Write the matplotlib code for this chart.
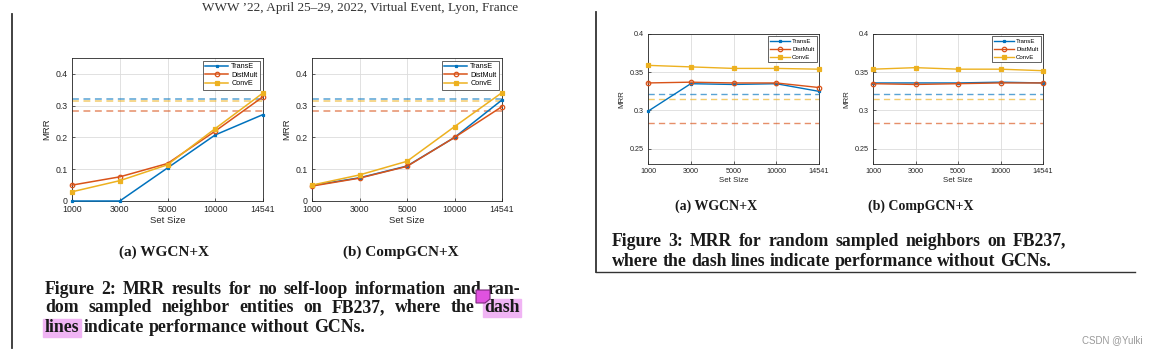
import numpy as np
import matplotlib.pyplot as plt
from matplotlib.patches import Rectangle, Polygon

# data
set_sizes = ["1000", "3000", "5000", "10000", "14541"]
models = ["TransE", "DistMult", "ConvE"]

# figure 2: no self-loop + random sampled neighbours
f2a_transe = [0.000, 0.000, 0.104, 0.208, 0.272]
f2a_distmult = [0.050, 0.076, 0.118, 0.220, 0.328]
f2a_conve = [0.029, 0.064, 0.114, 0.228, 0.340]

f2b_transe = [0.049, 0.073, 0.110, 0.200, 0.318]
f2b_distmult = [0.047, 0.072, 0.109, 0.200, 0.297]
f2b_conve = [0.050, 0.082, 0.125, 0.234, 0.341]

# figure 3: random sampled neighbours
f3a_transe = [0.299, 0.335, 0.334, 0.335, 0.325]
f3a_distmult = [0.336, 0.337, 0.336, 0.336, 0.330]
f3a_conve = [0.359, 0.357, 0.355, 0.355, 0.354]

f3b_transe = [0.336, 0.336, 0.336, 0.337, 0.336]
f3b_distmult = [0.335, 0.334, 0.335, 0.336, 0.336]
f3b_conve = [0.354, 0.356, 0.354, 0.354, 0.352]

# performance without GCNs (dash lines)
base_transe = 0.321
base_distmult = 0.283
base_conve = 0.315

colors = ["#0072BD", "#D95319", "#EDB120"]
markers = ["s", "o", "s"]
msizes = [1.8, 3.2, 3.0]

W, H = 1158, 355
fig = plt.figure(figsize=(W / 100, H / 100), dpi=100)
fig.patch.set_facecolor("white")

sans = ["Liberation Sans", "DejaVu Sans"]
serif = ["Liberation Serif", "DejaVu Serif"]


def add_ax(l, t, r, b):
    return fig.add_axes([l / W, 1 - b / H, (r - l) / W, (b - t) / H])


def draw_panel(ax, series, ylim, yticks, ytick_labels, fs, leg_fs, lw, lsp):
    x = np.arange(len(set_sizes))
    for base, c in zip([base_transe, base_distmult, base_conve], colors):
        ax.axhline(base, color=c, ls=(0, (4.5, 3)), lw=lw, alpha=0.65, zorder=2)
    for vals, name, c, m, ms in zip(series, models, colors, markers, msizes):
        ax.plot(x, vals, color=c, marker=m, ms=ms, lw=lw, label=name,
                markerfacecolor=c if m == "s" else "none", markeredgewidth=0.9,
                zorder=3, clip_on=False)
    ax.set_xlim(0, len(set_sizes) - 1)
    ax.set_ylim(*ylim)
    ax.set_xticks(x)
    ax.set_xticklabels(set_sizes, fontsize=fs, family=sans)
    ax.set_yticks(yticks)
    ax.set_yticklabels(ytick_labels, fontsize=fs, family=sans)
    ax.grid(True, color="#dcdcdc", lw=0.6)
    ax.tick_params(length=2, width=0.5, direction="in", colors="#262626")
    ax.tick_params(axis="x", pad=3)
    ax.tick_params(axis="y", pad=3)
    for s in ax.spines.values():
        s.set_color("#262626")
        s.set_linewidth(0.6)
    ax.set_xlabel("Set Size", fontsize=fs + 0.5, family=sans, color="#262626", labelpad=1)
    ax.set_ylabel("MRR", fontsize=fs + 0.5, family=sans, color="#262626", labelpad=3)
    leg = ax.legend(loc="upper right", prop={"family": sans, "size": leg_fs},
                    handlelength=3.2, handletextpad=0.4, borderpad=0.35,
                    labelspacing=lsp, fancybox=False, framealpha=1,
                    borderaxespad=0.4)
    leg.get_frame().set_edgecolor("#262626")
    leg.get_frame().set_linewidth(0.5)


ax = add_ax(72, 58, 263, 201)
draw_panel(ax, [f2a_transe, f2a_distmult, f2a_conve], (0, 0.45),
           [0, 0.1, 0.2, 0.3, 0.4], ["0", "0.1", "0.2", "0.3", "0.4"], 6.3, 5.2, 1.1, 0.2)
ax = add_ax(312, 58, 502, 201)
draw_panel(ax, [f2b_transe, f2b_distmult, f2b_conve], (0, 0.45),
           [0, 0.1, 0.2, 0.3, 0.4], ["0", "0.1", "0.2", "0.3", "0.4"], 6.3, 5.2, 1.1, 0.2)
ax = add_ax(648, 34, 819, 164)
draw_panel(ax, [f3a_transe, f3a_distmult, f3a_conve], (0.23, 0.4),
           [0.25, 0.3, 0.35, 0.4], ["0.25", "0.3", "0.35", "0.4"], 5.2, 4.4, 1.0, 0.45)
ax = add_ax(873, 34, 1043, 164)
draw_panel(ax, [f3b_transe, f3b_distmult, f3b_conve], (0.23, 0.4),
           [0.25, 0.3, 0.35, 0.4], ["0.25", "0.3", "0.35", "0.4"], 5.2, 4.4, 1.0, 0.45)

renderer = fig.canvas.get_renderer()
cap_fs = 12.8


def line_of_words(line, x0, y, size, x1=None):
    # place words one by one; spread them to x1 when justified
    words = line.split(" ")
    ts = [fig.text(0, 1 - y / H, w, fontsize=size, family=serif, weight="bold",
                   va="center", ha="left", color="#1a1a1a") for w in words]
    widths = [t.get_window_extent(renderer).width for t in ts]
    space = size * 0.25 * 100 / 72
    if x1 is not None and len(words) > 1:
        space = (x1 - x0 - sum(widths)) / (len(words) - 1)
    x = x0
    for t, w in zip(ts, widths):
        t.set_x(x / W)
        x += w + space
    return ts


def highlight(t, pad_y=9):
    bb = t.get_window_extent(renderer)
    yc = (bb.y0 + bb.y1) / 2
    fig.add_artist(Rectangle(((bb.x0 - 2) / W, (yc - pad_y) / H), (bb.width + 3) / W, 2 * pad_y / H,
                             transform=fig.transFigure, color="#f0b4f4", zorder=0))


# running header of the page
fig.text(360 / W, 1 - 8 / H, "WWW \u201922, April 25\u201329, 2022, Virtual Event, Lyon, France",
         fontsize=9.5, family=serif, ha="center", va="center", color="#333333")

# page frame lines
fig.add_artist(plt.Line2D([12 / W, 12 / W], [1 - 14 / H, 1 - 348 / H], color="#333333", lw=1.3))
fig.add_artist(plt.Line2D([596 / W, 596 / W], [1 - 12 / H, 1 - 272 / H], color="#333333", lw=1.3))
fig.add_artist(plt.Line2D([596 / W, 1135 / W], [1 - 272 / H, 1 - 272 / H], color="#333333", lw=1.0))

# figure 2 captions
fig.text(164 / W, 1 - 252 / H, "(a) WGCN+X", fontsize=11, family=serif, weight="bold",
         ha="center", va="center", color="#1a1a1a")
fig.text(401 / W, 1 - 252 / H, "(b) CompGCN+X", fontsize=11, family=serif, weight="bold",
         ha="center", va="center", color="#1a1a1a")
line_of_words("Figure 2: MRR results for no self-loop information and ran-", 45, 289, cap_fs, 520)
l2 = line_of_words("dom sampled neighbor entities on FB237, where the dash", 45, 308, cap_fs, 520)
l3 = line_of_words("lines indicate performance without GCNs.", 45, 328, cap_fs)
highlight(l2[-1])
highlight(l3[0])
# comment note icon
fig.add_artist(Polygon([(476 / W, 1 - 290 / H), (490 / W, 1 - 290 / H), (490 / W, 1 - 299 / H),
                        (485 / W, 1 - 303 / H), (476 / W, 1 - 303 / H)],
                       closed=True, transform=fig.transFigure, facecolor="#e052e0",
                       edgecolor="#7a2a7a", lw=0.8, zorder=5))

# figure 3 captions
fig.text(716 / W, 1 - 206 / H, "(a) WGCN+X", fontsize=10, family=serif, weight="bold",
         ha="center", va="center", color="#1a1a1a")
fig.text(921 / W, 1 - 206 / H, "(b) CompGCN+X", fontsize=10, family=serif, weight="bold",
         ha="center", va="center", color="#1a1a1a")
line_of_words("Figure 3: MRR for random sampled neighbors on FB237,", 612, 241, cap_fs, 1066)
line_of_words("where the dash lines indicate performance without GCNs.", 612, 261, cap_fs)

fig.text(1143 / W, 1 - 340 / H, "CSDN @Yulki", fontsize=7, family=sans, ha="right",
         va="center", color="#999999")

fig.savefig("out.png", dpi=100, facecolor="white")
